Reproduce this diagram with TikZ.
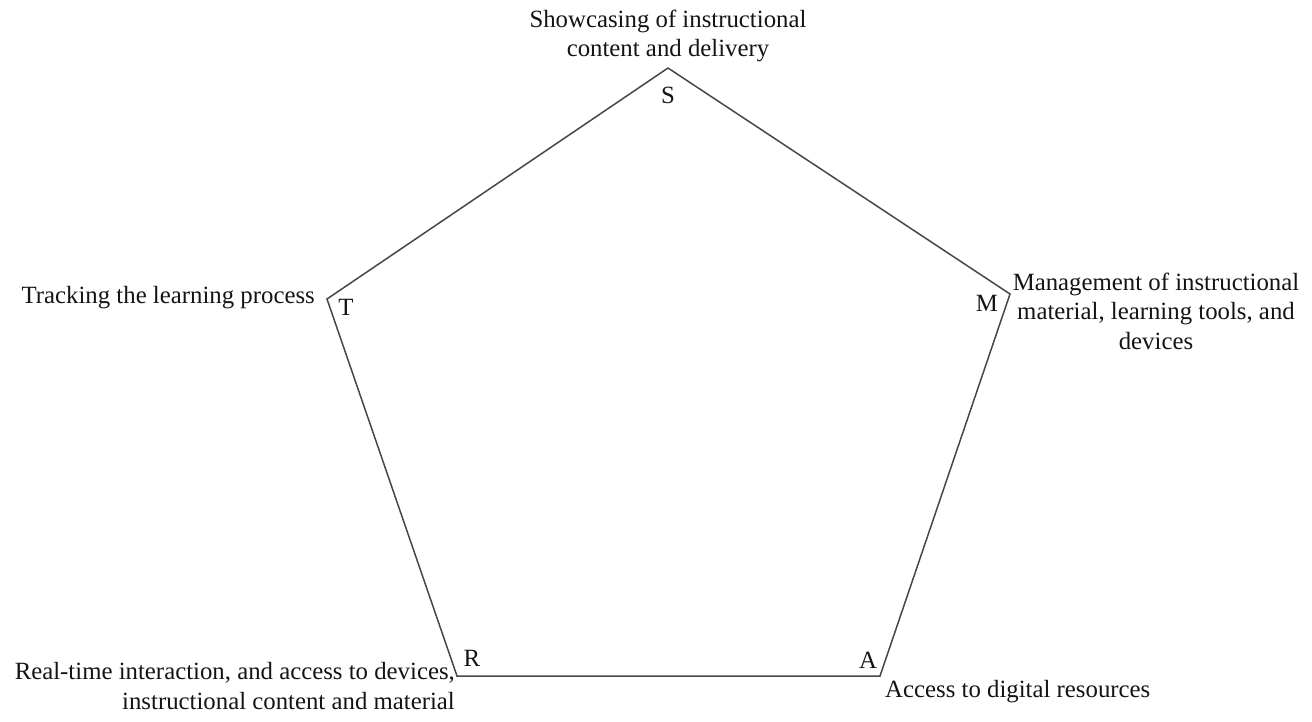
\documentclass[tikz,border=0pt]{standalone}
\usepackage{fontspec}
\setmainfont{Liberation Serif}
\begin{document}
\begin{tikzpicture}[x=1pt,y=-1pt,
  lbl/.style={inner sep=0pt, text=black!92, font=\fontsize{24.8}{29.5}\selectfont},
  edge/.style={draw=black!72, line width=1.5pt, line join=miter}]
\useasboundingbox (0,0) rectangle (1312,721);
% vertices
\coordinate (vS) at (668,68);
\coordinate (vM) at (1010,294);
\coordinate (vA) at (880,676);
\coordinate (vR) at (457,676);
\coordinate (vT) at (327,299);
\draw[edge] (vS) -- (vM) -- (vA) -- (vR) -- (vT) -- cycle;
% vertex letters
\node[lbl] (lS) at (668,95) {S};
\node[lbl] (lM) at (987,303) {M};
\node[lbl] (lA) at (868,660) {A};
\node[lbl] (lR) at (472,658) {R};
\node[lbl] (lT) at (346,307) {T};
% descriptions
\node[lbl, align=center] (dS) at (668,36) {Showcasing of instructional\\content and delivery};
\node[lbl, align=center] (dM) at (1156,311) {Management of instructional\\material, learning tools, and\\devices};
\node[lbl, anchor=west] (dA) at (885,692) {Access to digital resources};
\node[lbl, align=right, anchor=east] (dR) at (455,686) {Real-time interaction, and access to devices,\\instructional content and material};
\node[lbl, anchor=east] (dT) at (315,298) {Tracking the learning process};
\end{tikzpicture}
\end{document}
